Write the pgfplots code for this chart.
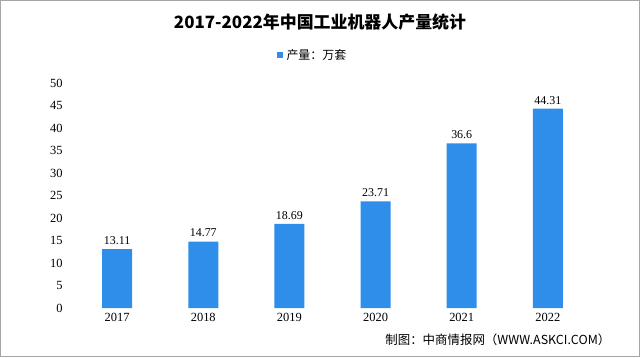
\documentclass[border=0pt]{standalone}
\usepackage{pgfplots}
\pgfplotsset{compat=1.18}
\usepackage{fontspec}
\setmainfont{Liberation Serif}
\newfontfamily\cjk{Noto Sans CJK SC}
\definecolor{barblue}{RGB}{46,142,234}
\begin{document}
\begin{tikzpicture}[x=1bp,y=1bp]
\draw[white] (0,0) rectangle (640,357);
\draw[gray!70, line width=1.2bp] (0.6,0.6) rectangle (639.4,356.4);
\begin{axis}[
  at={(73.9bp,49bp)}, anchor=south west,
  scale only axis, width=517.2bp, height=225bp,
  xmin=-0.5, xmax=5.5, ymin=0, ymax=50,
  axis line style={draw=none},
  ytick={0,5,...,50},
  xtick={0,1,2,3,4,5},
  xticklabels={2017,2018,2019,2020,2021,2022},
  major tick length=0pt,
  tick label style={font=\fontsize{12.5}{13}\selectfont},
  /pgf/number format/assume math mode=true,
  yticklabel style={xshift=-8bp},
  xticklabel style={yshift=-2bp},
  ybar, bar width=30bp,
  nodes near coords,
  nodes near coords style={font=\fontsize{12}{13}\selectfont, yshift=1bp,
     /pgf/number format/.cd, fixed, precision=2, assume math mode=true},
  clip=false,
]
\addplot[fill=barblue, draw=none] coordinates {(0,13.11) (1,14.77) (2,18.69) (3,23.71) (4,36.6) (5,44.31)};
\end{axis}
\node[font=\cjk\bfseries\fontsize{17}{18}\selectfont] at (320,335) {2017-2022年中国工业机器人产量统计};
\fill[barblue] (277,299) rectangle +(6,6);
\node[font=\cjk\fontsize{12}{13}\selectfont, anchor=west] at (283,302) {产量：万套};
\node[font=\cjk\fontsize{12.5}{13}\selectfont, anchor=east] at (614,17) {制图：中商情报网（WWW.ASKCI.COM）};
\end{tikzpicture}
\end{document}
